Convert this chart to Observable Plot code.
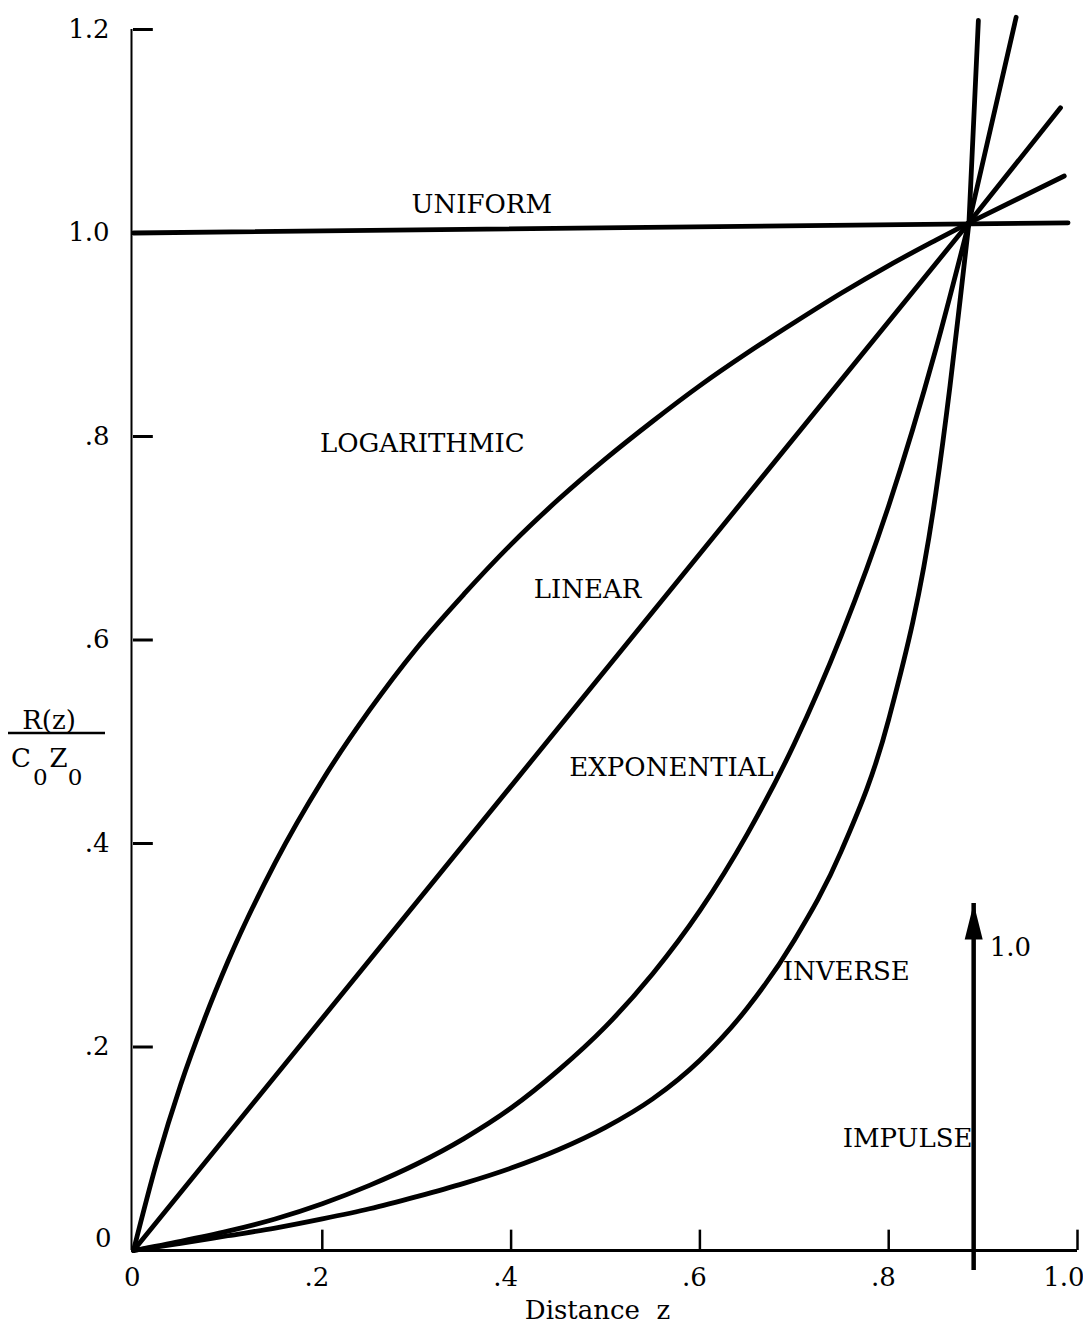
<!DOCTYPE html>
<html>
<head>
<meta charset="utf-8">
<script src="https://cdn.jsdelivr.net/npm/d3@7"></script>
<script src="https://cdn.jsdelivr.net/npm/@observablehq/plot@0.6"></script>
<style>
  html, body { margin: 0; padding: 0; background: #fff; }
  #chart svg { overflow: visible; display: block; }
</style>
</head>
<body>
<div id="chart"></div>
<script>
// ---- data ----
const xTicks = [0, 0.2, 0.4, 0.6, 0.8, 1.0];
const xTickLabels = ["0", ".2", ".4", ".6", ".8", "1.0"];
const yTicks = [0, 0.2, 0.4, 0.6, 0.8, 1.0, 1.2];
const yTickLabels = ["0", ".2", ".4", ".6", ".8", "1.0", "1.2"];

// profiles R(z)/C0Z0 versus distance z (lower part, up to the common point)
const logZ = [0, 0.025, 0.05, 0.075, 0.1, 0.15, 0.2, 0.25, 0.3, 0.35, 0.4, 0.45, 0.5, 0.55, 0.6, 0.65, 0.7, 0.75, 0.8, 0.85, 0.885];
const logR = [0, 0.088, 0.163, 0.227, 0.284, 0.381, 0.462, 0.531, 0.592, 0.645, 0.694, 0.738, 0.778, 0.815, 0.850, 0.882, 0.912, 0.941, 0.968, 0.993, 1.01];

const linZ = [0, 0.885];
const linR = [0, 1.01];

const expZ = [0, 0.05, 0.1, 0.15, 0.2, 0.25, 0.3, 0.35, 0.4, 0.45, 0.5, 0.55, 0.6, 0.65, 0.7, 0.75, 0.8, 0.85, 0.885];
const expR = [0, 0.009, 0.019, 0.031, 0.046, 0.064, 0.085, 0.110, 0.140, 0.177, 0.220, 0.272, 0.334, 0.409, 0.498, 0.605, 0.732, 0.886, 1.01];

const invZ = [0, 0.05, 0.1, 0.15, 0.2, 0.25, 0.3, 0.35, 0.4, 0.45, 0.5, 0.55, 0.6, 0.65, 0.7, 0.75, 0.8, 0.85, 0.865, 0.876, 0.885];
const invR = [0, 0.007, 0.0145, 0.022, 0.031, 0.041, 0.053, 0.066, 0.081, 0.099, 0.121, 0.149, 0.187, 0.238, 0.305, 0.393, 0.522, 0.745, 0.850, 0.937, 1.01];

const uniZ = [0, 0.99];
const uniR = [1.0, 1.01];

// straight continuations beyond the common point
const tailSeries = ["LOGARITHMIC", "LINEAR", "EXPONENTIAL", "INVERSE"];
const tailStartZ = [0.885, 0.885, 0.885, 0.885];
const tailStartR = [1.01, 1.01, 1.01, 1.01];
const tailEndZ = [0.986, 0.982, 0.935, 0.895];
const tailEndR = [1.056, 1.123, 1.212, 1.209];

// impulse
const impulseZ = 0.89;
const impulseH = 0.341;

// curve labels
const labelText = ["UNIFORM", "LOGARITHMIC", "LINEAR", "EXPONENTIAL", "INVERSE", "IMPULSE", "1.0"];
const labelZ = [0.369, 0.306, 0.481, 0.570, 0.755, 0.820, 0.929];
const labelR = [1.028, 0.793, 0.649, 0.475, 0.274, 0.110, 0.298];

// ---- build tables ----
function rows(name, zs, rs) { return zs.map((z, i) => ({series: name, z, r: rs[i]})); }
const curveRows = [
  ...rows("LOGARITHMIC", logZ, logR),
  ...rows("EXPONENTIAL", expZ, expR),
  ...rows("INVERSE", invZ, invR)
];
const straightRows = [
  ...rows("LINEAR", linZ, linR),
  ...rows("UNIFORM", uniZ, uniR)
];
const tailRows = tailSeries.flatMap((s, i) => [
  {series: s, z: tailStartZ[i], r: tailStartR[i]},
  {series: s, z: tailEndZ[i], r: tailEndR[i]}
]);
const labels = labelText.map((t, i) => ({t, z: labelZ[i], r: labelR[i]}));

const FONT = "'DejaVu Serif', 'Liberation Serif', serif";
const FS = 26;
const SW = 4.8;

const arrowHead = {
  draw(context) {
    context.moveTo(0, 0);
    context.lineTo(9, 36);
    context.lineTo(-9, 36);
    context.closePath();
  }
};

const chart = Plot.plot({
  width: 1083,
  height: 1325,
  marginLeft: 133,
  marginRight: 6,
  marginTop: 29,
  marginBottom: 75,
  style: {fontFamily: FONT, fontSize: FS + "px", background: "#fff", color: "#000"},
  x: {domain: [0, 1], axis: null},
  y: {domain: [0, 1.2], axis: null},
  marks: [
    // axes lines
    Plot.ruleX([0], {y1: 0, y2: 1.2, stroke: "#000", strokeWidth: 2, dx: -2}),
    Plot.ruleY([0], {x1: 0, x2: 1.0, stroke: "#000", strokeWidth: 3}),
    // inward ticks
    Plot.ruleY(yTicks.slice(1), {y: d => d, x1: 0, x2: 0.021, stroke: "#000", strokeWidth: 3}),
    Plot.ruleX(xTicks.slice(1), {x: d => d, y1: 0, y2: 0.02, stroke: "#000", strokeWidth: 2.5}),
    // tick labels
    Plot.text(yTicks.slice(1), {
      x: 0, y: d => d, text: d => yTickLabels[yTicks.indexOf(d)],
      textAnchor: "end", dx: -24, fontSize: FS, fill: "#000", letterSpacing: "1.5px"
    }),
    Plot.text([0], {
      x: 0, y: d => d, text: d => yTickLabels[yTicks.indexOf(d)],
      textAnchor: "end", dx: -22, dy: -12, fontSize: FS, fill: "#000"
    }),
    Plot.text(xTicks, {
      x: d => d, y: 0, text: d => xTickLabels[xTicks.indexOf(d)],
      textAnchor: "end", lineAnchor: "top", dx: 7, dy: 17, fontSize: FS, fill: "#000", letterSpacing: "1.5px"
    }),
    Plot.text(["Distance\u00a0\u00a0z"], {
      frameAnchor: "bottom", lineAnchor: "bottom", dx: -8, dy: 68, fontSize: FS, fill: "#000", letterSpacing: "0.5px"
    }),
    // curves
    Plot.line(straightRows, {x: "z", y: "r", z: "series", stroke: "#000", strokeWidth: SW, strokeLinecap: "round"}),
    Plot.line(curveRows, {x: "z", y: "r", z: "series", curve: "monotone-x", stroke: "#000", strokeWidth: SW, strokeLinecap: "round"}),
    Plot.line(tailRows, {x: "z", y: "r", z: "series", stroke: "#000", strokeWidth: SW, strokeLinecap: "round"}),
    // impulse arrow
    Plot.ruleX([impulseZ], {x: d => d, y1: 0, y2: impulseH, insetTop: 20, stroke: "#000", strokeWidth: 4.5}),
    Plot.dot([impulseZ], {x: d => d, y: impulseH, symbol: arrowHead, fill: "#000", stroke: "none"}),
    // curve labels
    Plot.text(labels, {x: "z", y: "r", text: "t", fontSize: FS, fill: "#000", textAnchor: "middle", lineAnchor: "middle"})
  ]
});

// y-axis label: R(z) over C0Z0
const svg = d3.select(chart);
const g = svg.append("g").attr("font-family", FONT).attr("fill", "#000");
g.append("text").attr("x", 49).attr("y", 729).attr("text-anchor", "middle").attr("font-size", FS).text("R(z)");
g.append("line").attr("x1", 8).attr("x2", 105).attr("y1", 733).attr("y2", 733).attr("stroke", "#000").attr("stroke-width", 2.5);
const t2 = g.append("text").attr("x", 11).attr("y", 767).attr("text-anchor", "start").attr("font-size", FS);
t2.append("tspan").text("C");
t2.append("tspan").attr("dx", 2).attr("dy", 18).attr("font-size", 23).text("0");
t2.append("tspan").attr("dx", 2).attr("dy", -18).text("Z");
t2.append("tspan").attr("dy", 18).attr("font-size", 23).text("0");

document.getElementById("chart").appendChild(chart);
</script>
</body>
</html>
